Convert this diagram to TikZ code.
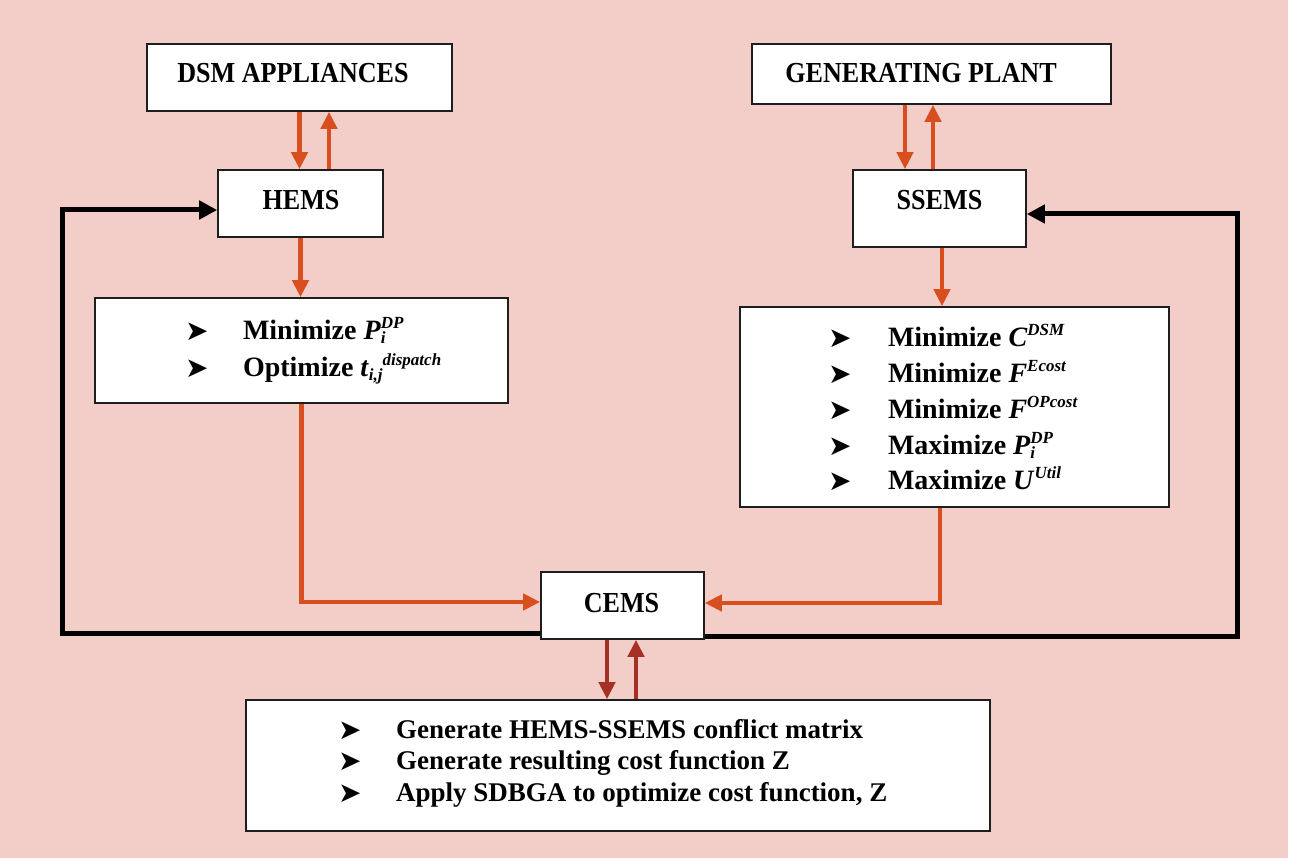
\documentclass[tikz,border=0pt]{standalone}
\usepackage{fontspec}
\setmainfont{Liberation Serif}
\newfontfamily\ttl[FakeStretch=0.9]{Liberation Serif}
\newfontfamily\dejavu{DejaVu Sans}
\usetikzlibrary{arrows.meta}
\definecolor{bgpink}{RGB}{243,205,200}
\definecolor{orangeA}{RGB}{217,78,30}
\definecolor{darkred}{RGB}{165,48,35}
\definecolor{boxline}{RGB}{30,30,30}
\newcommand{\bul}{\raisebox{-1pt}{\dejavu\fontsize{28}{28}\selectfont ➤}}
\newcommand{\smf}{\fontsize{17}{17}\selectfont}
\newcommand{\SupSub}[3]{#1\rlap{\raisebox{-4pt}{\smf #3}}\raisebox{11pt}{\smf #2}}
\newcommand{\SupOnly}[2]{#1\raisebox{11pt}{\smf #2}}
\newcommand{\itm}[2][58pt]{\makebox[#1][l]{\bul}#2}
% dx, raise, text
\newcommand{\boxtext}[3]{\raisebox{#2}[0pt][0pt]{\rlap{\kern#1\makebox[0pt][c]{#3}}}}
\newcommand{\listtext}[4]{\raisebox{#2}[0pt][0pt]{\rlap{\kern#1\parbox[t]{600pt}{\lineskiplimit=-100pt\baselineskip=#3 #4}}}}
\begin{document}
\begin{tikzpicture}[x=1pt,y=-1pt,line join=miter,
  box/.style={draw=boxline,line width=1.6pt,fill=white,inner sep=0pt},
  ttlfont/.style={font=\ttl\fontsize{29}{34}\selectfont\bfseries},
  objfont/.style={font=\fontsize{28}{32}\selectfont\bfseries},
  botfont/.style={font=\fontsize{27}{32}\selectfont\bfseries},
  oarrow/.style={draw=orangeA,line width=4.5pt,-{Triangle[length=17pt,width=16pt]}},
  rarrow/.style={draw=darkred,line width=4.5pt,-{Triangle[length=17pt,width=16pt]}},
  barrow/.style={draw=black,line width=5pt,-{Triangle[length=18pt,width=18pt]}}]
\useasboundingbox (0,0) rectangle (1299,858);
\fill[white] (0,0) rectangle (1299,858);
\fill[bgpink] (0,0) rectangle (1288,858);

% boxes
\node[box,ttlfont,minimum width=305pt,minimum height=67pt] (dsm) at (299.5,77.5)
  {\boxtext{-6.5pt}{-5.5pt}{DSM APPLIANCES}};
\node[box,ttlfont,minimum width=165pt,minimum height=67pt] (hems) at (300.5,203.5)
  {\boxtext{0.5pt}{-6.5pt}{HEMS}};
\node[box,ttlfont,minimum width=359pt,minimum height=60pt] (gp) at (931.5,74)
  {\boxtext{-10.5pt}{-9pt}{GENERATING PLANT}};
\node[box,ttlfont,minimum width=173pt,minimum height=77pt] (ssems) at (939.5,208.5)
  {\boxtext{0pt}{-1.5pt}{SSEMS}};
\node[box,ttlfont,minimum width=163pt,minimum height=67pt] (cems) at (622.5,605.5)
  {\boxtext{-1pt}{-6.5pt}{CEMS}};

\node[box,objfont,minimum width=413pt,minimum height=105pt] (hobj) at (301.5,350.5)
  {\listtext{-116.5pt}{10.5pt}{37pt}{%
    \itm{Minimize \SupSub{\textit{P}}{\textit{DP}}{\textit{i}}}\\
    \itm{Optimize \textit{t}\raisebox{-4pt}{\smf\textit{i,j}}\raisebox{11pt}{\smf\textit{dispatch}}}}};
\node[box,objfont,minimum width=429pt,minimum height=200pt] (sobj) at (954.5,407)
  {\listtext{-126.5pt}{60pt}{35.75pt}{%
    \itm[60pt]{Minimize \SupOnly{\textit{C}}{\textit{DSM}}}\\
    \itm[60pt]{Minimize \SupOnly{\textit{F}}{\textit{Ecost}}}\\
    \itm[60pt]{Minimize \SupOnly{\textit{F}}{\textit{OPcost}}}\\
    \itm[60pt]{Maximize \SupSub{\textit{P}}{\textit{DP}}{\textit{i}}}\\
    \itm[60pt]{Maximize \SupOnly{\textit{U}}{\textit{Util}}}}};
\node[box,botfont,minimum width=744pt,minimum height=131pt] (bot) at (618,765.5)
  {\listtext{-280pt}{27.5pt}{31.5pt}{%
    \itm{Generate HEMS-SSEMS conflict matrix}\\
    \itm{Generate resulting cost function Z}\\
    \itm{Apply SDBGA to optimize cost function, Z}}};

% orange arrows
\draw[oarrow] (dsm.south) -- (dsm.south |- hems.north);
\draw[oarrow] ([xshift=28.5pt]hems.north) -- ([xshift=28.5pt]hems.north |- dsm.south);
\draw[oarrow] ([xshift=-34.5pt]ssems.north |- gp.south) -- ([xshift=-34.5pt]ssems.north);
\draw[oarrow] ([xshift=-6.5pt]ssems.north) -- ([xshift=-6.5pt]ssems.north |- gp.south);
\draw[oarrow] (hems.south) -- (hems.south |- hobj.north);
\draw[oarrow] ([xshift=2.5pt]ssems.south) -- ([xshift=2.5pt]ssems.south |- sobj.north);
\draw[oarrow] (hobj.south) |- ([yshift=3.5pt]cems.west);
\draw[oarrow] ([xshift=-14.5pt]sobj.south) |- ([yshift=2.5pt]cems.east);

% black feedback loops
\coordinate (lcorner) at (62,210);
\coordinate (rcorner) at (1237,214);
\draw[barrow] ([yshift=-27.5pt]cems.west) -| (lcorner) -- (lcorner -| hems.west);
\draw[barrow] ([yshift=-30.5pt]cems.east) -| (rcorner) -- (rcorner -| ssems.east);

% dark red arrows CEMS <-> bottom box
\draw[rarrow] ([xshift=-15.5pt]cems.south) -- ([xshift=-15.5pt]cems.south |- bot.north);
\draw[rarrow] ([xshift=13.5pt]cems.south |- bot.north) -- ([xshift=13.5pt]cems.south);
\end{tikzpicture}
\end{document}
